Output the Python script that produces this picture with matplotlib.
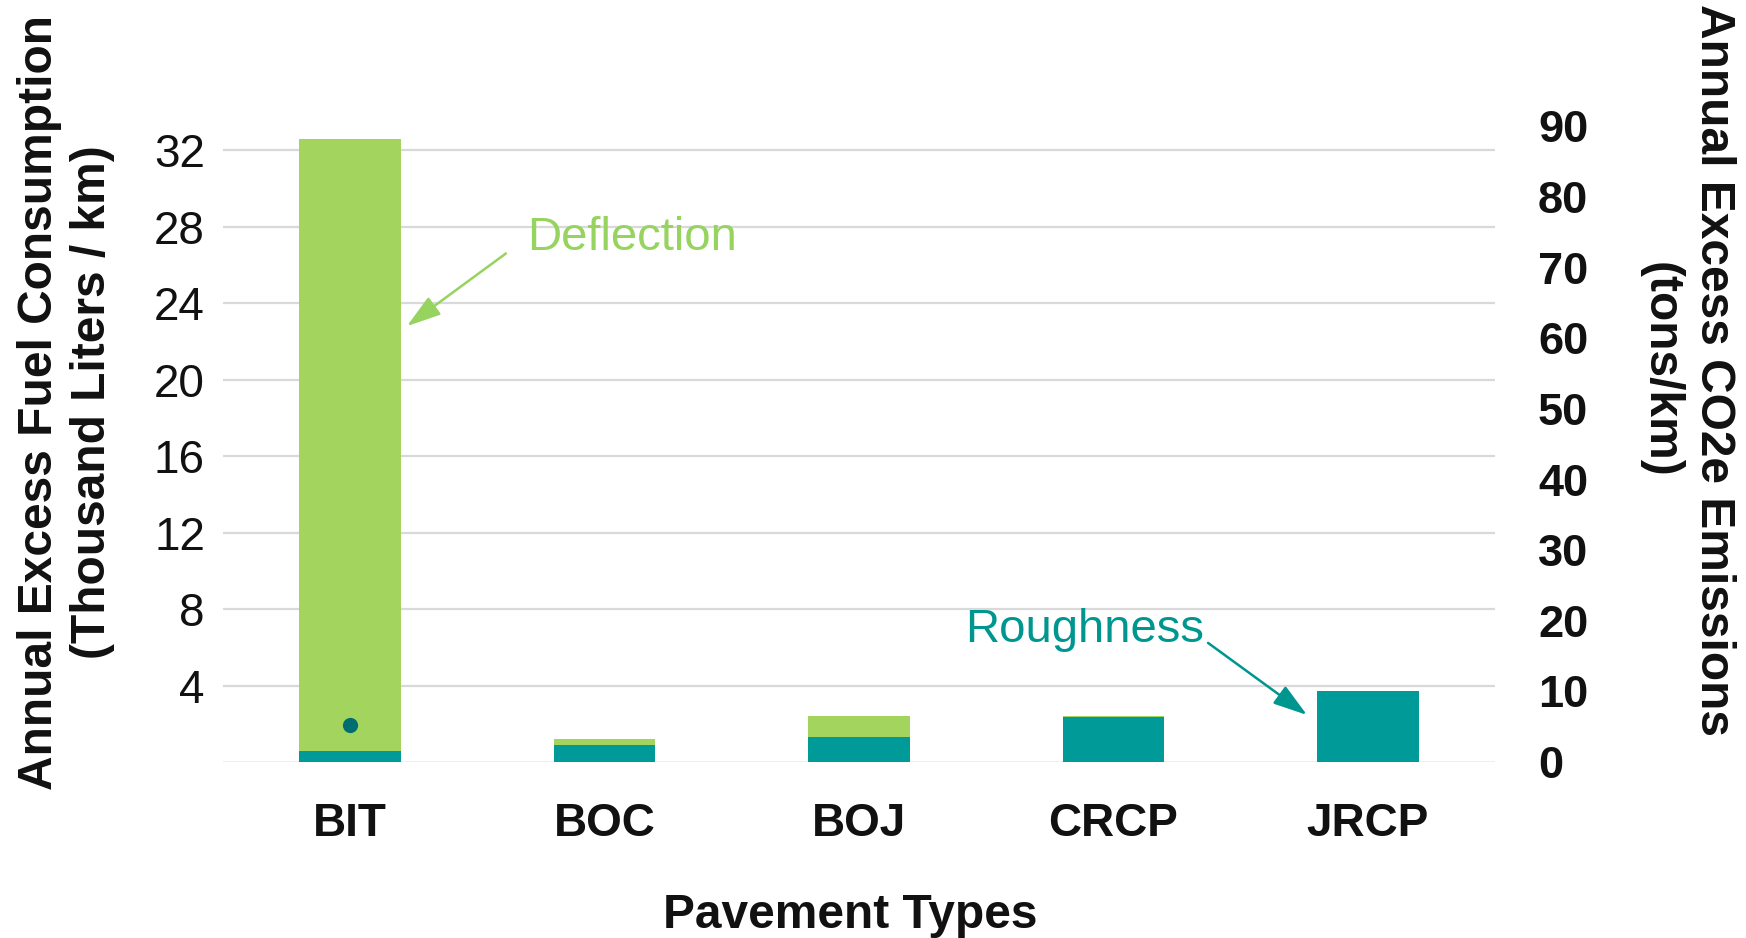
import matplotlib
matplotlib.use("Agg")
import matplotlib.pyplot as plt
from matplotlib import font_manager

# Data: annual excess fuel consumption (thousand liters / km) per pavement type
pavement_types = ["BIT", "BOC", "BOJ", "CRCP", "JRCP"]
roughness = [0.55, 0.87, 1.29, 2.37, 3.69]
deflection = [32.05, 0.31, 1.13, 0.05, 0.05]
marker_value = 1.91          # single point shown on the BIT bar
left_ticks = [4, 8, 12, 16, 20, 24, 28, 32]
right_ticks = [0, 10, 20, 30, 40, 50, 60, 70, 80, 90]
co2_per_liter = 2.707        # tons CO2e per thousand liters

GREEN = "#A2D45E"
TEAL = "#009B98"
DOT = "#006E70"
GRID = "#D9D9D9"
ZERO = "#C8F6F6"

installed = {f.name for f in font_manager.fontManager.ttflist}
FONT = "Liberation Sans" if "Liberation Sans" in installed else "DejaVu Sans"
plt.rcParams["font.family"] = [FONT, "DejaVu Sans"]

W, H = 1746, 938
fig = plt.figure(figsize=(W / 100, H / 100), dpi=100)
ax = fig.add_axes([223 / W, 1 - 762 / H, (1495 - 223) / W, (762 - 112) / H])

x = list(range(len(pavement_types)))
ax.bar(x, roughness, width=0.4, color=TEAL, zorder=3, linewidth=0)
ax.bar(x, deflection, width=0.4, bottom=roughness, color=GREEN, zorder=3, linewidth=0)
ax.scatter([0], [marker_value], s=120, color=DOT, zorder=4, linewidths=0)

ax.set_xlim(-0.5, 4.5)
ax.set_ylim(0, 34)
ax.set_yticks(left_ticks)
ax.set_yticklabels([str(t) for t in left_ticks], fontsize=33, color="#111111")
ax.set_xticks(x)
ax.set_xticklabels(pavement_types, fontsize=33, fontweight="bold", color="#111111")
ax.tick_params(axis="both", length=0)
ax.tick_params(axis="y", pad=13)
ax.tick_params(axis="x", pad=29)
for s in ax.spines.values():
    s.set_visible(False)
for t in left_ticks:
    ax.axhline(t, color=GRID, lw=1.6, zorder=1)
ax.axhline(0, color=ZERO, lw=1.8, zorder=2)

ax2 = ax.twinx()
ax2.set_ylim(0, 34 * co2_per_liter)
ax2.set_yticks(right_ticks)
ax2.set_yticklabels([str(t) for t in right_ticks], fontsize=32.5, fontweight="bold", color="#111111")
ax2.tick_params(axis="y", length=0, pad=31)
for s in ax2.spines.values():
    s.set_visible(False)

# Annotations
arrow_style = "-|>,head_length=0.7,head_width=0.22"
ax.annotate("", xy=(0.223, 22.8), xytext=(0.612, 26.6),
            arrowprops=dict(arrowstyle=arrow_style, color="#96D35F", lw=1.8,
                            mutation_scale=30, shrinkA=0, shrinkB=0), zorder=5)
ax.text(1.106, 26.8, "Deflection", color="#96D35F", fontsize=34,
        ha="center", va="baseline", zorder=5)
ax.annotate("", xy=(3.761, 2.46), xytext=(3.372, 6.23),
            arrowprops=dict(arrowstyle=arrow_style, color="#009690", lw=1.8,
                            mutation_scale=30, shrinkA=0, shrinkB=0), zorder=5)
ax.text(2.888, 6.28, "Roughness", color="#009690", fontsize=34,
        ha="center", va="baseline", zorder=5)

# Axis titles
fig.text(850 / W, 1 - 928 / H, "Pavement Types", fontsize=34.5, fontweight="bold",
         ha="center", va="baseline", color="#111111")
fig.text(66 / W, 1 - 402 / H,
         "Annual Excess Fuel Consumption\n(Thousand Liters / km)",
         rotation=90, fontsize=34.5, fontweight="bold", ha="center", va="center",
         multialignment="center", color="#111111", linespacing=1.25)
fig.text(1687 / W, 1 - 370 / H,
         "Annual Excess CO2e Emissions\n(tons/km)",
         rotation=-90, fontsize=34.5, fontweight="bold", ha="center", va="center",
         multialignment="center", color="#111111", linespacing=1.25)

fig.savefig("out.png", dpi=100)
